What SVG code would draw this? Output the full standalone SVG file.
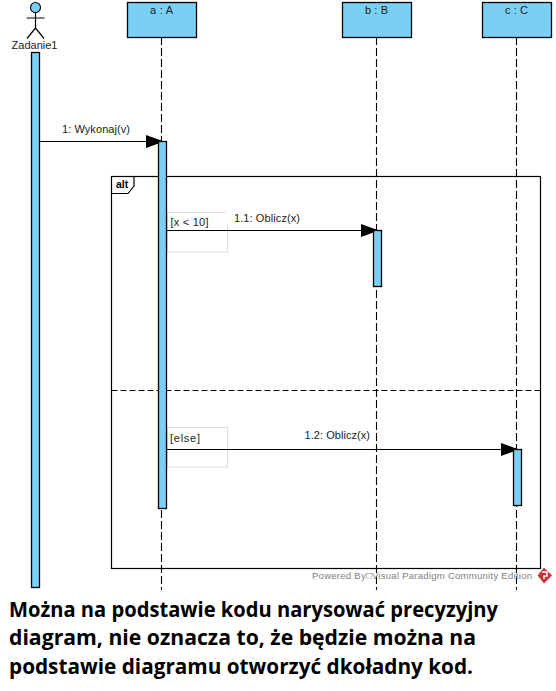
<svg xmlns="http://www.w3.org/2000/svg" width="556" height="691" viewBox="0 0 556 691">
<style>
.t{font-family:"Liberation Sans",Arial,sans-serif;font-size:11px;fill:#222}
.box{fill:#7acff5;stroke:#000;stroke-width:1.3}
.life{stroke:#000;stroke-width:1.1;stroke-dasharray:8 3;fill:none}
.msg{stroke:#000;stroke-width:1.2;fill:none;marker-end:url(#arr)}
.guard{fill:#fff;stroke:#ddd;stroke-width:1}
.cap{font-family:"Open Sans","Noto Sans",sans-serif;font-size:21px;font-weight:700;fill:#000}
.s{stroke:#000;stroke-width:1.2;fill:none}
</style>
<defs>
<marker id="arr" markerUnits="userSpaceOnUse" markerWidth="20" markerHeight="14" refX="15" refY="7" orient="auto"><path d="M0 0.500L18 7L0 13.500Z" fill="#000"/></marker>
</defs>
<rect width="556" height="691" fill="#fff"/>
<g id="frame-alt">
<rect x="111.500" y="176.500" width="429" height="392" fill="none" stroke="#000" stroke-width="1.2"/>
<path d="M111.500 193.500H128L134 186V176.500" class="s"/>
<text x="116" y="188" font-family="Liberation Sans,Arial,sans-serif" font-size="10.500" font-weight="700" fill="#000">alt</text>
<line x1="111.500" y1="390.500" x2="540" y2="390.500" stroke="#000" stroke-width="1.100" stroke-dasharray="6 3"/>
</g>
<g id="guards">
<rect class="guard" x="167.500" y="212.500" width="60" height="39.500"/>
<rect x="225.500" y="210" width="75" height="15" fill="#fff"/>
<text class="t" x="170.500" y="226" textLength="38">[x &lt; 10]</text>
<rect class="guard" x="167.500" y="427.500" width="60" height="39.500"/>
<text class="t" x="170" y="442" textLength="30">[else]</text>
</g>
<g id="lifelines">
<line class="life" x1="161.500" y1="37" x2="161.500" y2="590"/>
<line class="life" x1="376.500" y1="37" x2="376.500" y2="590"/>
<line class="life" x1="516.500" y1="37" x2="516.500" y2="590"/>
</g>
<g id="connectors">
<line class="msg" x1="39.500" y1="141.500" x2="161" y2="141.500"/>
<line class="msg" x1="166.500" y1="230.500" x2="376" y2="230.500"/>
<line class="msg" x1="166.500" y1="449.500" x2="516" y2="449.500"/>
<text class="t" x="62" y="133" textLength="68">1: Wykonaj(v)</text>
<text class="t" x="234" y="222" textLength="66">1.1: Oblicz(x)</text>
<text class="t" x="304.500" y="439" textLength="65.500">1.2: Oblicz(x)</text>
</g>
<g id="actor-zadanie1">
<circle cx="35.500" cy="7.500" r="5" fill="#7acff5" stroke="#000" stroke-width="1.100"/>
<path d="M35.500 12.500V28M26.500 18H44.500M35.500 28L27 38.500M35.500 28L44 38.500" class="s"/>
<text class="t" x="34.500" y="49" text-anchor="middle">Zadanie1</text>
<rect class="box" x="31.500" y="52.500" width="8" height="535"/>
</g>
<g id="node-a">
<rect class="box" x="127.500" y="2.500" width="69" height="35"/>
<text class="t" x="161.500" y="14" text-anchor="middle" textLength="23">a : A</text>
<rect class="box" x="158.500" y="141.500" width="8" height="367"/>
</g>
<g id="node-b">
<rect class="box" x="342.500" y="2.500" width="69" height="35"/>
<text class="t" x="376.500" y="14" text-anchor="middle" textLength="23">b : B</text>
<rect class="box" x="373.500" y="230.500" width="8" height="56"/>
</g>
<g id="node-c">
<rect class="box" x="482.500" y="2.500" width="69" height="35"/>
<text class="t" x="516.500" y="14" text-anchor="middle" textLength="23">c : C</text>
<rect class="box" x="513.500" y="449.500" width="8" height="56"/>
</g>
<g id="watermark">
<text x="312" y="579" font-family="Liberation Sans,Arial,sans-serif" font-size="9.500" fill="#808080" textLength="220" lengthAdjust="spacing">Powered By□Visual Paradigm Community Edition</text>
<path d="M544 567.500L552 575.500L544 583.500L537.500 575.500Z" fill="#c8353a"/>
<path d="M542 572H547V576H544V579" fill="none" stroke="#fff" stroke-width="1.500"/>
</g>
<g id="caption">
<text class="cap" x="9" y="617" textLength="489" lengthAdjust="spacingAndGlyphs">Można na podstawie kodu narysować precyzyjny</text>
<text class="cap" x="9" y="645" textLength="467" lengthAdjust="spacingAndGlyphs">diagram, nie oznacza to, że będzie można na</text>
<text class="cap" x="9" y="674" textLength="464" lengthAdjust="spacingAndGlyphs">podstawie diagramu otworzyć dkoładny kod.</text>
</g>
</svg>
